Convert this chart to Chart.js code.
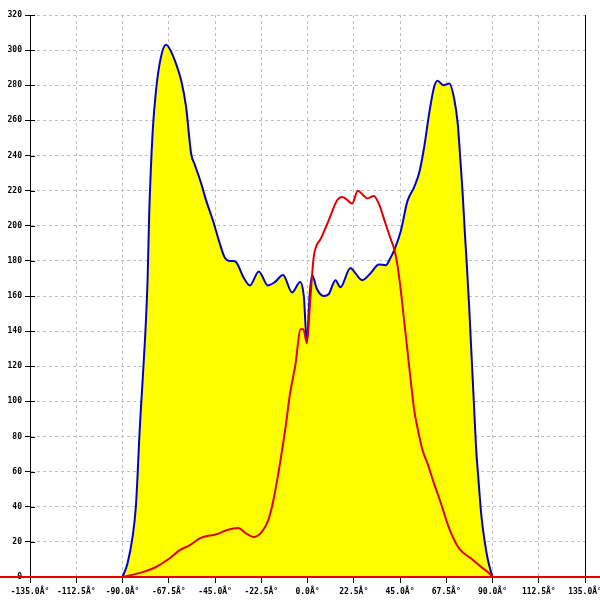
<!DOCTYPE html>
<html>
<head>
<meta charset="utf-8">
<script src="https://cdn.jsdelivr.net/npm/chart.js@4"></script>
<style>
html,body{margin:0;padding:0;background:#fff;}
#wrap{width:600px;height:600px;position:relative;}
</style>
</head>
<body>
<div id="wrap"><canvas id="c" width="600" height="600"></canvas></div>
<script>
// x-axis ticks (degrees)
const xTickValues = [-135, -112.5, -90, -67.5, -45, -22.5, 0, 22.5, 45, 67.5, 90, 112.5, 135];
const yTickValues = [0, 20, 40, 60, 80, 100, 120, 140, 160, 180, 200, 220, 240, 260, 280, 300, 320];

// Blue series (yellow filled)
const blueX = [-90, -87.6, -85.1, -83.5, -82.7, -81.8, -81.0, -80.2, -77.8, -77.0, -75.3, -73.7, -71.3, -68.8, -66.3, -63.9, -61.5, -59.1, -56.6, -54.9, -51.7, -49.2, -46.0, -42.7, -40.3, -38, -36.2, -34.5, -31.3, -28, -23.7, -19.3, -15.8, -11.9, -7.5, -3.6, -1.8, -0.3, 1.0, 2.2, 4.6, 7.8, 10.3, 13.6, 16.0, 20.9, 23.3, 26.6, 30.7, 34.7, 38.0, 40.5, 42.5, 45.4, 48.6, 51.9, 54.3, 56.8, 59.2, 61.6, 63.3, 66.2, 69.0, 71.4, 73.1, 74.4, 75.5, 76.5, 77.5, 78.6, 79.6, 80.4, 81.2, 82.0, 83.2, 84.5, 86.1, 87.8, 90];
const blueY = [0, 7.6, 22.8, 40, 57, 80, 97, 112, 169, 207, 254, 277, 296, 303, 299, 292, 283, 268, 241, 235, 224, 214, 203, 190, 182, 180, 180, 179, 171, 166, 174, 166, 168, 172, 162, 168, 160, 134, 160, 172, 164, 160, 161, 169, 165, 176, 173, 169, 173, 178, 177.5, 182, 187, 197, 214, 222, 230, 245, 264, 279, 282.5, 280, 281, 272, 258, 237, 218, 197, 178, 155, 131, 112, 93, 74, 55, 36, 21, 9.5, 0];

// Red series
const redX = [-90, -80.2, -73.7, -67.2, -62.3, -57.4, -51.7, -44.3, -39.4, -33.8, -29.7, -26.4, -22.3, -19.1, -16.6, -13.4, -10.9, -8.5, -6, -3.3, -2, -0.3, 1.3, 3, 4.5, 6.2, 10.3, 14.4, 16.8, 19, 21.7, 24.5, 27.4, 29.1, 32.3, 34.7, 38.0, 40.6, 42.1, 43.7, 45.4, 47.0, 48.6, 50.2, 51.9, 53.5, 56.0, 58.4, 61.6, 64.9, 68.2, 70.6, 73.9, 79.6, 84.5, 89.4, 90];
const redY = [0, 2.8, 5.7, 10.5, 15.2, 18, 22.4, 24.3, 26.6, 27.9, 24.7, 22.8, 25.6, 32.3, 43.7, 64.6, 83.5, 104.4, 120, 141, 141, 133, 157, 182, 189, 192, 203, 214.5, 216.4, 215, 212.6, 220, 217, 215.5, 217, 212.6, 201, 192, 187, 178, 163, 146, 129, 112, 95, 85, 72, 64.6, 53, 42, 30, 23, 16, 10.5, 5.7, 1, 0];

const bluePts = blueX.map((x, i) => ({x: x, y: blueY[i]}));
const redPts = redX.map((x, i) => ({x: x, y: redY[i]}));

const tickFont = {family: '"DejaVu Sans Mono", monospace', size: 8, weight: 'bold'};

const extras = {
  id: 'extras',
  afterDraw(chart) {
    const ctx = chart.ctx;
    const ys = chart.scales.y;
    const left = chart.chartArea.left;
    ctx.save();
    // inner halves of y tick marks
    ctx.strokeStyle = '#000';
    ctx.lineWidth = 1;
    ys.ticks.forEach(t => {
      const py = Math.round(ys.getPixelForValue(t.value)) + 0.5;
      ctx.beginPath();
      ctx.moveTo(left, py);
      ctx.lineTo(left + 5, py);
      ctx.stroke();
    });
    // red baseline across the whole width
    const y0 = ys.getPixelForValue(0);
    ctx.strokeStyle = '#e00000';
    ctx.lineWidth = 2;
    ctx.beginPath();
    ctx.moveTo(0, y0);
    ctx.lineTo(chart.width, y0);
    ctx.stroke();
    ctx.restore();
  }
};

new Chart(document.getElementById('c'), {
  type: 'line',
  data: {
    datasets: [
      {
        label: 'red',
        data: redPts,
        borderColor: '#e00000',
        borderWidth: 2,
        pointRadius: 0,
        fill: false,
        cubicInterpolationMode: 'monotone'
      },
      {
        label: 'blue',
        data: bluePts,
        borderColor: '#0000c8',
        backgroundColor: '#ffff00',
        borderWidth: 2,
        pointRadius: 0,
        fill: 'origin',
        cubicInterpolationMode: 'monotone'
      }
    ]
  },
  options: {
    responsive: false,
    animation: false,
    layout: {padding: {top: 15, left: 0, right: 0, bottom: 0}},
    plugins: {legend: {display: false}, tooltip: {enabled: false}},
    scales: {
      x: {
        type: 'linear',
        position: 'bottom',
        min: -135, max: 135,
        afterBuildTicks(scale) { scale.ticks = xTickValues.map(v => ({value: v})); },
        afterFit(scale) { scale.height = 23; scale.paddingLeft = 0; scale.paddingRight = 0; },
        ticks: {
          font: tickFont, color: '#000', padding: 4, maxRotation: 0, autoSkip: false,
          callback: v => v.toFixed(1) + 'Â°'
        },
        grid: {color: '#c0c0c0', tickColor: '#000', tickLength: 6, lineWidth: 1},
        border: {display: false, dash: [3, 3]}
      },
      y: {
        position: 'left',
        min: 0, max: 320,
        afterBuildTicks(scale) { scale.ticks = yTickValues.map(v => ({value: v})); },
        afterFit(scale) { scale.width = 30; },
        ticks: {font: tickFont, color: '#000', padding: 3},
        grid: {color: '#c0c0c0', tickColor: '#000', tickLength: 5, lineWidth: 1},
        border: {display: true, color: '#000', width: 1, dash: [3, 3]}
      },
      y2: {
        position: 'right',
        min: 0, max: 320,
        afterFit(scale) { scale.width = 15; },
        ticks: {display: false},
        grid: {drawOnChartArea: false, drawTicks: false},
        border: {display: true, color: '#000', width: 1}
      }
    }
  },
  plugins: [extras]
});
</script>
</body>
</html>
